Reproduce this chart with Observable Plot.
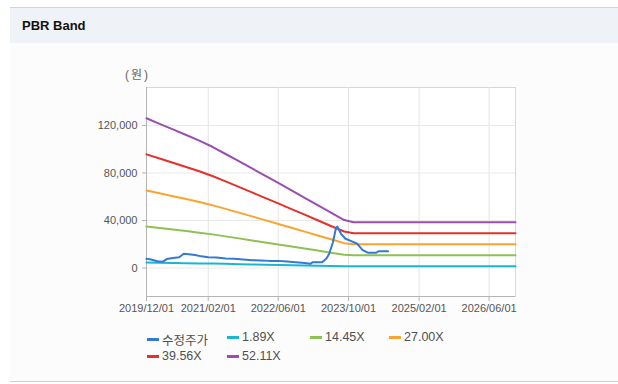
<!DOCTYPE html>
<html>
<head>
<meta charset="utf-8">
<script src="https://cdn.jsdelivr.net/npm/d3@7"></script>
<script src="https://cdn.jsdelivr.net/npm/@observablehq/plot@0.6"></script>
<style>
  html, body { margin: 0; padding: 0; background: #fff; }
  body { width: 618px; height: 384px; position: relative; overflow: hidden;
         font-family: "Liberation Sans", Arial, "Noto Sans CJK KR", sans-serif; }
  #topline { position: absolute; left: 10px; right: 0; top: 7px; height: 1px; background: #d4d4d4; }
  #header { position: absolute; left: 10px; right: 0; top: 8px; height: 35px; background: #eff3f8; }
  #header span { position: absolute; left: 12px; top: 10px; font-size: 13px; font-weight: bold; color: #111; }
  #panel { position: absolute; left: 10px; right: 0; top: 43px; height: 338px; background: #fcfcfc; }
  #bottomline { position: absolute; left: 10px; right: 0; top: 381px; height: 1px; background: #cfcfcf; }
  #unit { position: absolute; left: 125px; top: 65px; font-size: 12px; color: #666; letter-spacing: 2px;
          font-family: "Liberation Sans", "Noto Sans CJK KR", sans-serif; }
  #chart { position: absolute; left: 0; top: 60px; }
  #legend { position: absolute; left: 147px; top: 330px; font-size: 12.5px; color: #505050;
            font-family: "Liberation Sans", Arial, "Noto Sans CJK KR", sans-serif; }
  .item { position: absolute; white-space: nowrap; display: flex; align-items: center; }
  .sw { display: inline-block; width: 12px; height: 3px; margin-right: 3px; }
</style>
</head>
<body>
<div id="topline"></div>
<div id="header"><span>PBR Band</span></div>
<div id="panel"></div>
<div id="bottomline"></div>
<div id="unit">(원)</div>
<div id="chart"></div>
<div id="legend"></div>
<script>
// ---- data ----
const seriesNames = ["수정주가", "1.89X", "14.45X", "27.00X", "39.56X", "52.11X"];
const seriesColors = ["#3578d4", "#1bb5cf", "#8dc153", "#f7a530", "#e5312b", "#9a4fae"];

const priceDates = ["2019-12-01","2020-01-01","2020-02-15","2020-03-20","2020-04-20","2020-06-01","2020-07-15","2020-08-15","2020-09-20","2020-11-01","2020-12-15","2021-02-01","2021-04-01","2021-06-01","2021-08-01","2021-10-01","2021-12-01","2022-02-01","2022-04-01","2022-06-01","2022-08-01","2022-10-01","2022-12-01","2023-01-10","2023-01-25","2023-04-01","2023-05-01","2023-05-20","2023-06-15","2023-07-05","2023-07-15","2023-08-10","2023-09-10","2023-10-20","2023-12-01","2024-01-05","2024-02-15","2024-04-10","2024-04-25","2024-07-01"];
const priceValues = [7700,7200,5700,5200,7500,8500,9000,12000,11500,11000,9800,9100,8800,8000,7700,7200,6600,6300,6000,6000,5400,4900,4200,3500,4900,4900,8000,12000,21700,33000,35000,28800,24600,22600,20400,15300,12800,12800,14100,14100];

const bandDates = ["2019-12-01","2020-03-01","2020-06-01","2020-09-01","2020-12-01","2021-03-01","2021-06-01","2021-09-01","2021-12-01","2022-03-01","2022-06-01","2022-09-01","2022-12-01","2023-03-01","2023-06-01","2023-09-01","2023-11-05","2026-12-01"];
const band189  = [4574,4404,4234,4064,3893,3704,3483,3262,3041,2820,2599,2372,2145,1918,1692,1465,1399,1399];
const band1445 = [34969,33669,32368,31068,29767,28322,26631,24941,23250,21559,19869,18135,16401,14667,12933,11199,10693,10693];
const band2700 = [65340,62910,60480,58050,55620,52920,49761,46602,43443,40284,37125,33885,30645,27405,24165,20925,19980,19980];
const band3956 = [95700,92200,88600,85100,81500,77500,72900,68300,63700,59000,54400,49600,44900,40200,35400,30700,29300,29300];
const band5211 = [126100,121400,116700,112000,107300,102100,96000,89900,83800,77700,71700,65400,59100,52900,46600,40400,38600,38600];

const xTickLabels = ["2019-12-01","2021-02-01","2022-06-01","2023-10-01","2025-02-01","2026-06-01"];
const yTicks = [0, 40000, 80000, 120000];
const xDomain = ["2019-12-01","2026-12-01"];
const yDomain = [-24000, 152000];

// ---- build ----
const parse = d3.utcParse("%Y-%m-%d");
const rows = [];
priceDates.forEach((d, i) => rows.push({date: parse(d), value: priceValues[i], series: seriesNames[0]}));
const bands = [band189, band1445, band2700, band3956, band5211];
bands.forEach((arr, k) => bandDates.forEach((d, i) => rows.push({date: parse(d), value: arr[i], series: seriesNames[k + 1]})));

const drawOrder = ["1.89X", "14.45X", "27.00X", "39.56X", "52.11X", "수정주가"];

const chart = Plot.plot({
  width: 618,
  height: 260,
  marginLeft: 146,
  marginRight: 103,
  marginTop: 27,
  marginBottom: 24,
  style: {fontFamily: "Liberation Sans, Arial, sans-serif", fontSize: "11px", background: "transparent", overflow: "visible"},
  x: {type: "utc", domain: xDomain.map(parse), label: null},
  y: {domain: yDomain, label: null},
  color: {domain: seriesNames, range: seriesColors},
  marks: [
    Plot.frame({fill: "#fff", stroke: "#d6d6d6"}),
    Plot.gridX(xTickLabels.map(parse), {stroke: "#e4e4e4", strokeOpacity: 1}),
    Plot.gridY(yTicks, {stroke: "#e9e9e9", strokeOpacity: 1}),
    Plot.ruleX([parse(xDomain[0])], {stroke: "#b5b5b5"}),
    Plot.ruleY([yDomain[0]], {stroke: "#b5b5b5"}),
    Plot.axisX(xTickLabels.map(parse), {tickFormat: d3.utcFormat("%Y/%m/%d"), tickSize: 5, tickPadding: 3, stroke: "#b5b5b5", fill: "#555", label: null}),
    Plot.axisY(yTicks, {tickFormat: d3.format(","), tickSize: 4, tickPadding: 5, stroke: "#b5b5b5", fill: "#555", label: null}),
    ...drawOrder.map(name => Plot.line(rows.filter(r => r.series === name), {
      x: "date", y: "value", stroke: "series", strokeWidth: 2, curve: "linear"
    }))
  ]
});
document.getElementById("chart").appendChild(chart);

// ---- legend ----
const legend = document.getElementById("legend");
const cols = [0, 80, 163, 242];
seriesNames.forEach((name, i) => {
  const row = Math.floor(i / 4), col = i % 4;
  const el = document.createElement("div");
  el.className = "item";
  el.style.left = cols[col] + "px";
  el.style.top = (row * 19) + "px";
  el.innerHTML = `<span class="sw" style="background:${seriesColors[i]}"></span><span>${name}</span>`;
  legend.appendChild(el);
});
</script>
</body>
</html>
